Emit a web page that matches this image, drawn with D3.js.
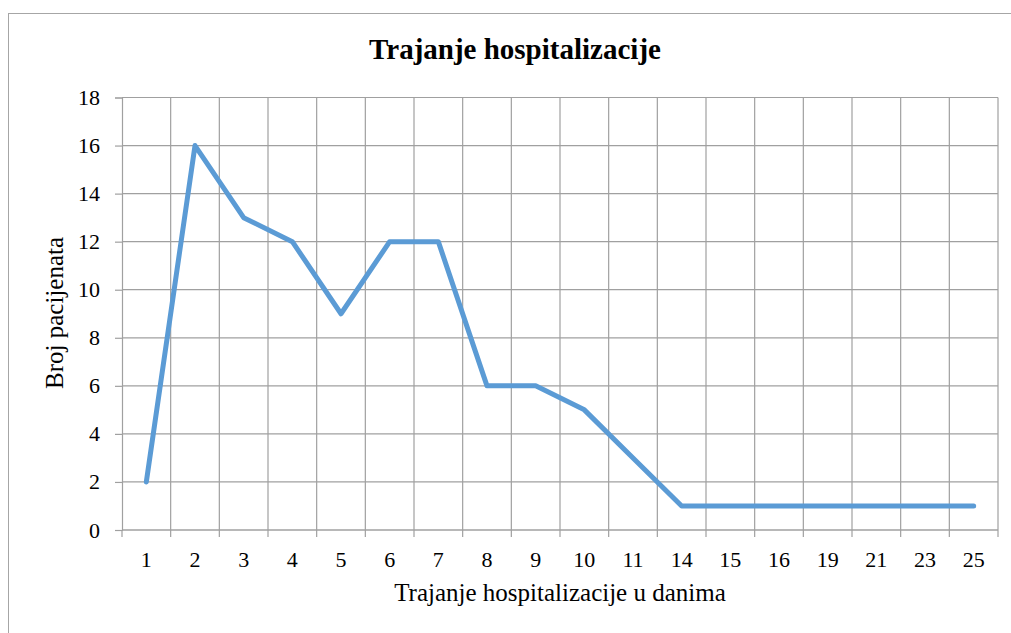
<!DOCTYPE html>
<html><head><meta charset="utf-8">
<script src="https://cdn.jsdelivr.net/npm/d3@7"></script>
<style>body{margin:0;background:#fff}svg{display:block}</style>
</head><body>
<svg id="c" width="1011" height="633"></svg>
<script>
const categories = ["1","2","3","4","5","6","7","8","9","10","11","14","15","16","19","21","23","25"];
const values = [2,16,13,12,9,12,12,6,6,5,3,1,1,1,1,1,1,1];
const yTicks = [0,2,4,6,8,10,12,14,16,18];
const title = "Trajanje hospitalizacije";
const xTitle = "Trajanje hospitalizacije u danima";
const yTitle = "Broj pacijenata";

const svg = d3.select("#c");
const font = "'Liberation Serif','Times New Roman',serif";
const m = {l:122, r:998, t:97.5, b:530};

svg.append("rect").attr("x",8.5).attr("y",13.5).attr("width",1020).attr("height",640)
  .attr("fill","#fff").attr("stroke","#a6a6a6").attr("stroke-width",1);

const x = d3.scaleBand().domain(categories).range([m.l,m.r]).paddingInner(0).paddingOuter(0);
const y = d3.scaleLinear().domain([0,18]).range([m.b,m.t]);

const g = svg.append("g");
g.selectAll(".hg").data(yTicks.filter(d=>d>0)).enter().append("line")
  .attr("x1",m.l).attr("x2",m.r).attr("y1",d=>y(d)).attr("y2",d=>y(d))
  .attr("stroke","#a0a0a0").attr("stroke-width",1.2);
const bounds = categories.map(c=>x(c)).concat([m.r]);
g.selectAll(".vg").data(bounds.slice(1)).enter().append("line")
  .attr("x1",d=>d).attr("x2",d=>d).attr("y1",m.t).attr("y2",m.b)
  .attr("stroke","#a0a0a0").attr("stroke-width",1.2);

const yAxis = d3.axisLeft(y).tickValues(yTicks).tickSize(7).tickPadding(15);
const ya = svg.append("g").attr("transform",`translate(${m.l},0)`).call(yAxis);
ya.select(".domain").attr("stroke","#a0a0a0").attr("stroke-width",1.2);
ya.selectAll(".tick line").attr("stroke","#a0a0a0").attr("stroke-width",1.2);
ya.selectAll("text").attr("font-family",font).attr("font-size",22).attr("fill","#000");

const xa = svg.append("g").attr("transform",`translate(0,${m.b})`);
xa.append("line").attr("x1",m.l).attr("x2",m.r).attr("y1",0).attr("y2",0)
  .attr("stroke","#a0a0a0").attr("stroke-width",1.5);
xa.selectAll(".xt").data(bounds).enter().append("line")
  .attr("x1",d=>d).attr("x2",d=>d).attr("y1",0).attr("y2",7)
  .attr("stroke","#a0a0a0").attr("stroke-width",1.2);
xa.selectAll(".xl").data(categories).enter().append("text")
  .attr("x",d=>x(d)+x.bandwidth()/2).attr("y",37)
  .attr("text-anchor","middle").attr("font-family",font).attr("font-size",22).attr("fill","#000")
  .text(d=>d);

const line = d3.line().x((d,i)=>x(categories[i])+x.bandwidth()/2).y(d=>y(d));
svg.append("path").datum(values).attr("d",line).attr("fill","none")
  .attr("stroke","#5b9bd5").attr("stroke-width",5).attr("stroke-linecap","round").attr("stroke-linejoin","round");

svg.append("text").attr("x",515).attr("y",59).attr("text-anchor","middle")
  .attr("font-family",font).attr("font-weight","bold").attr("font-size",29).attr("fill","#000").text(title);
svg.append("text").attr("x",560).attr("y",601).attr("text-anchor","middle")
  .attr("font-family",font).attr("font-size",25).attr("fill","#000").text(xTitle);
svg.append("text").attr("transform","translate(63,313) rotate(-90)").attr("text-anchor","middle")
  .attr("font-family",font).attr("font-size",25).attr("fill","#000").text(yTitle);
</script>
</body></html>
